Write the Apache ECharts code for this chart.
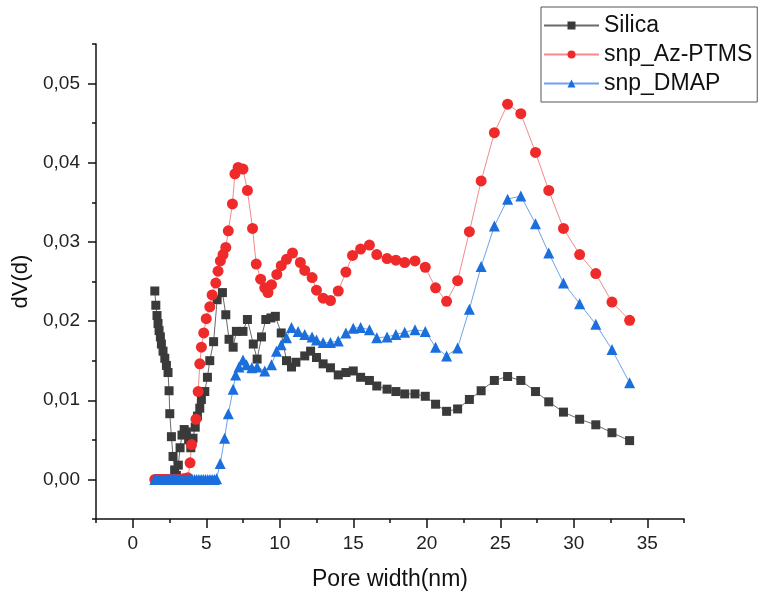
<!DOCTYPE html>
<html>
<head>
<meta charset="utf-8">
<script src="https://cdn.jsdelivr.net/npm/echarts@6/dist/echarts.min.js"></script>
<style>
  html, body { margin: 0; padding: 0; background: #fff; }
  #chart { width: 766px; height: 594px; }
</style>
</head>
<body>
<div id="chart"></div>
<script>
// pore width (nm), dV(d)
var silica = [
  [1.50, 0.0238], [1.57, 0.0220], [1.65, 0.0207], [1.72, 0.0197], [1.79, 0.0188],
  [1.88, 0.0180], [1.95, 0.0171], [2.06, 0.0162], [2.18, 0.0153], [2.29, 0.0144],
  [2.40, 0.0135], [2.47, 0.0112], [2.52, 0.0083], [2.63, 0.0054], [2.74, 0.0029],
  [2.85, 0.0012], [2.97, 0.0005], [3.10, 0.0018], [3.22, 0.0040], [3.35, 0.0056],
  [3.50, 0.0063], [3.65, 0.0060], [3.80, 0.0050], [3.95, 0.0040], [4.10, 0.0052],
  [4.25, 0.0066], [4.40, 0.0080], [4.56, 0.0090], [4.67, 0.0101], [4.90, 0.0111],
  [5.08, 0.0129], [5.24, 0.0150], [5.50, 0.0174], [5.74, 0.0227], [6.10, 0.0236],
  [6.33, 0.0208], [6.55, 0.0177], [6.83, 0.0167], [7.05, 0.0187], [7.50, 0.0187],
  [7.80, 0.0202], [8.20, 0.0171], [8.46, 0.0152], [8.76, 0.0180], [9.05, 0.0202],
  [9.40, 0.0204], [9.70, 0.0206], [10.10, 0.0185], [10.46, 0.0150], [10.80, 0.0142],
  [11.10, 0.0148], [11.70, 0.0156], [12.10, 0.0162], [12.50, 0.0154], [12.95, 0.0146],
  [13.45, 0.0141], [13.98, 0.0132], [14.50, 0.0135], [15.00, 0.0137], [15.50, 0.0129],
  [16.10, 0.0125], [16.60, 0.0118], [17.30, 0.0114], [17.90, 0.0111], [18.50, 0.0108],
  [19.20, 0.0108], [19.90, 0.0105], [20.60, 0.0095], [21.35, 0.0086], [22.10, 0.0089],
  [22.90, 0.0101], [23.70, 0.0112], [24.60, 0.0125], [25.50, 0.0130], [26.40, 0.0125],
  [27.40, 0.0111], [28.30, 0.0098], [29.30, 0.0085], [30.40, 0.0076], [31.50, 0.0069],
  [32.60, 0.0059], [33.80, 0.0049]
];

var azPtms = [
  [1.50, 0.0000], [1.65, 0.0000], [1.80, 0.0000], [1.95, 0.0000], [2.10, 0.0000],
  [2.25, 0.0000], [2.40, 0.0000], [2.55, 0.0000], [2.70, 0.0000], [2.85, 0.0000],
  [3.00, 0.0000], [3.15, 0.0000], [3.30, 0.0000], [3.45, 0.0001], [3.60, 0.0001],
  [3.75, 0.0002], [3.90, 0.0021], [4.00, 0.0044], [4.30, 0.0076], [4.45, 0.0111],
  [4.56, 0.0146], [4.67, 0.0167], [4.83, 0.0185], [5.00, 0.0203], [5.24, 0.0218],
  [5.40, 0.0233], [5.65, 0.0248], [5.80, 0.0263], [5.96, 0.0276], [6.14, 0.0284],
  [6.33, 0.0293], [6.50, 0.0314], [6.78, 0.0348], [6.95, 0.0386], [7.17, 0.0394],
  [7.50, 0.0392], [7.80, 0.0365], [8.15, 0.0317], [8.40, 0.0272], [8.70, 0.0253],
  [8.98, 0.0242], [9.20, 0.0236], [9.44, 0.0246], [9.80, 0.0259], [10.10, 0.0270],
  [10.46, 0.0278], [10.87, 0.0286], [11.40, 0.0274], [11.70, 0.0264], [12.20, 0.0255],
  [12.50, 0.0239], [12.95, 0.0229], [13.45, 0.0226], [13.98, 0.0238], [14.50, 0.0262],
  [14.95, 0.0283], [15.50, 0.0291], [16.10, 0.0296], [16.60, 0.0284], [17.30, 0.0279],
  [17.90, 0.0277], [18.50, 0.0274], [19.20, 0.0276], [19.90, 0.0268], [20.60, 0.0242],
  [21.35, 0.0225], [22.10, 0.0251], [22.90, 0.0313], [23.70, 0.0377], [24.60, 0.0438],
  [25.50, 0.0474], [26.40, 0.0462], [27.40, 0.0413], [28.30, 0.0365], [29.30, 0.0317],
  [30.40, 0.0284], [31.50, 0.0260], [32.60, 0.0224], [33.80, 0.0201]
];

var dmap = [
  [1.50, 0.0000], [1.65, 0.0000], [1.80, 0.0000], [1.95, 0.0000], [2.10, 0.0000],
  [2.25, 0.0000], [2.40, 0.0000], [2.55, 0.0000], [2.70, 0.0000], [2.85, 0.0000],
  [3.00, 0.0000], [3.15, 0.0000], [3.30, 0.0000], [3.45, 0.0000], [3.60, 0.0000],
  [3.75, 0.0000], [3.90, 0.0000], [4.05, 0.0000], [4.20, 0.0000], [4.35, 0.0000],
  [4.50, 0.0000], [4.65, 0.0000], [4.80, 0.0000], [4.95, 0.0000], [5.10, 0.0000],
  [5.25, 0.0000], [5.40, 0.0000], [5.55, 0.0000], [5.70, 0.0001], [5.95, 0.0020],
  [6.25, 0.0052], [6.50, 0.0083], [6.83, 0.0114], [7.00, 0.0132], [7.23, 0.0142],
  [7.50, 0.0151], [7.74, 0.0145], [8.10, 0.0141], [8.46, 0.0142], [8.98, 0.0137],
  [9.44, 0.0145], [9.78, 0.0162], [10.10, 0.0170], [10.46, 0.0179], [10.80, 0.0192],
  [11.25, 0.0187], [11.70, 0.0183], [12.20, 0.0180], [12.50, 0.0176], [12.95, 0.0173],
  [13.45, 0.0173], [13.98, 0.0175], [14.50, 0.0185], [15.00, 0.0191], [15.50, 0.0192],
  [16.10, 0.0189], [16.60, 0.0179], [17.30, 0.0180], [17.90, 0.0183], [18.50, 0.0186],
  [19.20, 0.0189], [19.90, 0.0187], [20.60, 0.0167], [21.35, 0.0156], [22.10, 0.0166],
  [22.90, 0.0215], [23.70, 0.0269], [24.60, 0.0320], [25.50, 0.0354], [26.40, 0.0358],
  [27.40, 0.0323], [28.30, 0.0286], [29.30, 0.0248], [30.40, 0.0222], [31.50, 0.0196],
  [32.60, 0.0164], [33.80, 0.0122]
];

var xMajor = [0, 5, 10, 15, 20, 25, 30, 35];
var xMinor = [-2.5, 2.5, 7.5, 12.5, 17.5, 22.5, 27.5, 32.5, 37.5];
var yMajor = [0, 0.01, 0.02, 0.03, 0.04, 0.05];
var yMinor = [-0.005, 0.005, 0.015, 0.025, 0.035, 0.045, 0.055];

var font = "'Liberation Sans', Arial, sans-serif";
var axisCol = "#111";

var myChart = echarts.init(document.getElementById("chart"));
var option = {
  backgroundColor: "#fff",
  animation: false,
  grid: { left: 96, right: 82, top: 44, bottom: 75, outerBoundsMode: "none" },
  legend: {
    orient: "vertical",
    left: 541,
    top: 7,
    padding: [7, 5, 7, 2],
    borderColor: "#555",
    borderWidth: 1,
    itemWidth: 55,
    itemHeight: 10,
    itemGap: 6,
    textStyle: { fontFamily: font, fontSize: 23, lineHeight: 23, color: "#111" },
    data: ["Silica", "snp_Az-PTMS", "snp_DMAP"]
  },
  xAxis: [
    {
      type: "value",
      min: -2.5,
      max: 37.5,
      name: "Pore width(nm)",
      nameLocation: "middle",
      nameGap: 49,
      nameTextStyle: { fontFamily: font, fontSize: 23, color: axisCol },
      splitLine: { show: false },
      axisLine: { onZero: false, lineStyle: { color: axisCol, width: 1.5 } },
      axisTick: { customValues: xMajor, length: 9, lineStyle: { color: axisCol, width: 1.5 } },
      axisLabel: { customValues: xMajor, margin: 15, fontFamily: font, fontSize: 19, color: "#222" }
    },
    {
      type: "value",
      min: -2.5,
      max: 37.5,
      position: "bottom",
      splitLine: { show: false },
      axisLine: { show: false, onZero: false },
      axisTick: { customValues: xMinor, length: 4, lineStyle: { color: axisCol, width: 1.5 } },
      axisLabel: { show: false }
    }
  ],
  yAxis: [
    {
      type: "value",
      min: -0.005,
      max: 0.055,
      name: "dV(d)",
      nameLocation: "middle",
      nameGap: 62,
      nameRotate: 90,
      nameTextStyle: { fontFamily: font, fontSize: 22, color: axisCol },
      splitLine: { show: false },
      axisLine: { show: true, onZero: false, lineStyle: { color: axisCol, width: 1.5 } },
      axisTick: { show: true, customValues: yMajor, length: 8, lineStyle: { color: axisCol, width: 1.5 } },
      axisLabel: {
        customValues: yMajor,
        margin: 16,
        fontFamily: font,
        fontSize: 19,
        color: "#222",
        formatter: function (v) { return v.toFixed(2).replace(".", ","); }
      }
    },
    {
      type: "value",
      min: -0.005,
      max: 0.055,
      position: "left",
      splitLine: { show: false },
      axisLine: { show: false, onZero: false },
      axisTick: { show: true, customValues: yMinor, length: 4, lineStyle: { color: axisCol, width: 1.5 } },
      axisLabel: { show: false }
    }
  ],
  series: [
    {
      name: "Silica",
      type: "line",
      data: silica,
      symbol: "rect",
      symbolSize: 9,
      itemStyle: { color: "#3a3a3a" },
      lineStyle: { color: "#6a6a6a", width: 1 }
    },
    {
      name: "snp_Az-PTMS",
      type: "line",
      data: azPtms,
      symbol: "circle",
      symbolSize: 11,
      itemStyle: { color: "#ee2a2a" },
      lineStyle: { color: "#f28a8a", width: 1 }
    },
    {
      name: "snp_DMAP",
      type: "line",
      data: dmap,
      symbol: "triangle",
      symbolSize: 11,
      itemStyle: { color: "#1a6fdc" },
      lineStyle: { color: "#6fa3e8", width: 1 }
    }
  ]
};

option && myChart.setOption(option);
</script>
</body>
</html>
